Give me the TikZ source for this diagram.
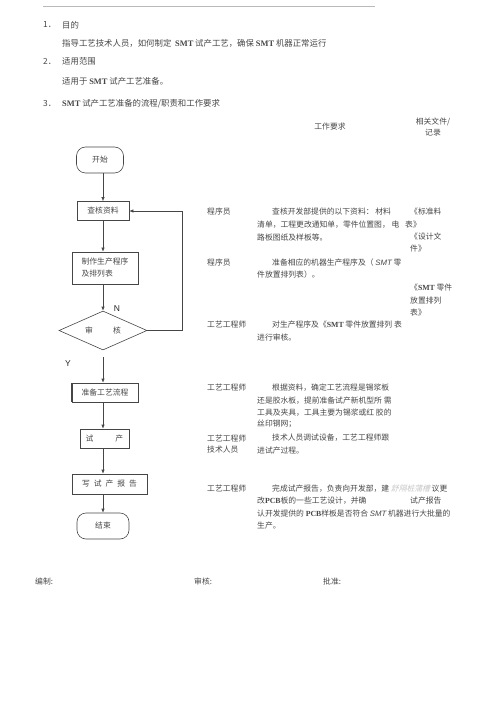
\documentclass[tikz,border=0pt]{standalone}
\usepackage{fontspec}
\setmainfont{Noto Sans CJK SC}
\newfontfamily\rmlat{Liberation Serif}
\newfontfamily\sflat{Liberation Sans}
\newfontfamily\cjkslant[FakeSlant=0.25]{Noto Sans CJK SC}
\usepackage{tikz}
\usetikzlibrary{arrows.meta,positioning,shapes.geometric}
\usepackage{xcolor}
\definecolor{ink}{RGB}{70,70,70}
\newcommand{\smtb}{{\rmlat\bfseries SMT}}
\newcommand{\smti}{{\sflat\itshape SMT}}
\newcommand{\pcbb}{{\rmlat\bfseries PCB}}

\begin{document}
\begin{tikzpicture}[x=1pt, y=-1pt,
          every node/.style={font=\fontsize{7.8}{9}\selectfont, text=ink},
          box/.style={rectangle,draw=ink,line width=0.6pt,inner sep=0pt,minimum height=19pt},
          term/.style={box,rounded corners=9pt,minimum height=26pt},
          decide/.style={diamond,draw=ink,line width=0.6pt,inner sep=0pt,aspect=2.25,minimum width=88pt,minimum height=39pt},
          flow/.style={-{Latex[length=4pt,width=3.4pt]},line width=0.6pt,draw=ink},
          txt/.style={anchor=west,inner sep=0pt},
          head/.style={txt,font=\fontsize{8.4}{9}\selectfont},
          yn/.style={inner sep=0pt,font=\sflat\fontsize{8.5}{9}\selectfont,text=black!85}
      ]
        \useasboundingbox (0,0) rectangle (500,708);
        \draw[gray!55,line width=0.5pt] (43,6) -- (375,6);
        % header
        \node[head] (n1)  at (43,25)  {1．};
        \node[head] (h1)  at (62,25)  {目的};
        \node[head] (h1a) at (62,43)  {指导工艺技术人员，如何制定\ \ \smtb\ 试产工艺，确保 \smtb\ 机器正常运行};
        \node[head] (n2)  at (43,61)  {2．};
        \node[head] (h2)  at (62,61)  {适用范围};
        \node[head] (h2a) at (62,81)  {适用于 \smtb\ 试产工艺准备。};
        \node[head] (n3)  at (43,104) {3．};
        \node[head] (h3)  at (62,104) {\smtb\ 试产工艺准备的流程/职责和工作要求};
        \node (colreq) at (330,127) {工作要求};
        \node[align=center] (coldoc) at (433,127) {相关文件/\\[2pt]记录};
        % flow chart
        \coordinate (spine) at (103,0);
        \coordinate (loop)  at (182,0);
        \node[term,minimum width=47pt] (start)  at (100,160)   {开始};
        \node[box,minimum width=52pt]  (check)  at (103,211)   {查核资料};
        \node[box,minimum width=66pt,minimum height=32pt,align=left] (make) at (105,268) {制作生产程序\\[3pt]及排列表};
        \node[decide] (review) at (103,330.5) {审\hspace{20pt}核};
        \node[box,minimum width=66pt]  (prep)   at (105,392.5) {准备工艺流程};
        \node[box,minimum width=49pt]  (trial)  at (104.5,438.5) {试\hspace{22pt}产};
        \node[box,minimum width=75pt,minimum height=20pt] (report) at (109.5,484) {写\hspace{4pt}试\hspace{4pt}产\hspace{4pt}报\hspace{4pt}告};
        \node[term,minimum width=52pt] (finish) at (103,526)   {结束};
        \draw[line width=1.3pt,ink] (prep.north west) -- (prep.south west);
        \node[yn] (lbn) at (117,309) {N};
        \node[yn] (lby) at (68,364)  {Y};
        \draw[flow] (start.south -| spine) -- (check.north -| spine);
        \draw[flow] (check.south -| spine) -- (make.north -| spine);
        \draw[flow] (make.south -| spine) -- (review.north);
        \draw[flow,shorten <=7pt] (review.south) -- (prep.north -| spine);
        \draw[flow] (prep.south -| spine) -- (trial.north -| spine);
        \draw[flow] (trial.south -| spine) -- (report.north -| spine);
        \draw[flow] (report.south -| spine) -- (finish.north -| spine);
        \draw[flow] (review.east) -- (review.east -| loop) -- (check.east -| loop) -- (check.east);
        % roles
        \node[txt] (p1) at (207,212) {程序员};
        \node[txt] (p2) at (207,263) {程序员};
        \node[txt] (p3) at (207,325) {工艺工程师};
        \node[txt] (p4) at (207,388) {工艺工程师};
        \node[txt,align=left] (p5) at (207,444.5) {工艺工程师\\[2pt]技术人员};
        \node[txt] (p6) at (207,489) {工艺工程师};
        % requirements
        \node[txt] (r1a) at (272,212) {查核开发部提供的以下资料：\ 材料};
        \node[txt] (r1b) at (257,225) {清单，工程更改通知单，零件位置图，\ 电};
        \node[txt] (r1c) at (257,238) {路板图纸及样板等。};
        \node[txt] (r2a) at (272,263) {准备相应的机器生产程序及（ \smti\ 零};
        \node[txt] (r2b) at (257,275) {件放置排列表）。};
        \node[txt] (r3a) at (272,325) {对生产程序及《\smtb\ 零件放置排列 表};
        \node[txt] (r3b) at (257,338) {进行审核。};
        \node[txt] (r4a) at (272,388) {根据资料，确定工艺流程是锡浆板};
        \node[txt] (r4b) at (257,401) {还是胶水板，提前准备试产新机型所 需};
        \node[txt] (r4c) at (257,413) {工具及夹具，工具主要为锡浆或红 胶的};
        \node[txt] (r4d) at (257,424) {丝印钢网；};
        \node[txt] (r5a) at (272,438) {技术人员调试设备，工艺工程师跟};
        \node[txt] (r5b) at (257,451) {进试产过程。};
        \node[txt] (r6a) at (272,489) {完成试产报告，负责向开发部，建 {\cjkslant\color{gray!45}舒隔桩蒲槽} 议更};
        \node[txt] (r6b) at (257,501) {改\pcbb 板的一些工艺设计，并确};
        \node[txt] (r6c) at (257,514) {认开发提供的 \pcbb 样板是否符合 \smti\ 机器进行大批量的};
        \node[txt] (r6d) at (257,526) {生产。};
        % records
        \node[txt] (d1a) at (410,212) {《标准料};
        \node[txt] (d1b) at (405,225) {表》};
        \node[txt] (d1c) at (410,237) {《设计文};
        \node[txt] (d1d) at (410,249) {件》};
        \node[txt] (d2a) at (410,288) {《\smtb\ 零件};
        \node[txt] (d2b) at (410,301) {放置排列};
        \node[txt] (d2c) at (410,313) {表》};
        \node[txt] (d6a) at (410,501) {试产报告};
        % signatures
        \node[txt] (s1) at (35,582)  {编制:};
        \node[txt] (s2) at (194,582) {审核:};
        \node[txt] (s3) at (323,582) {批准:};
      \end{tikzpicture}
\end{document}
